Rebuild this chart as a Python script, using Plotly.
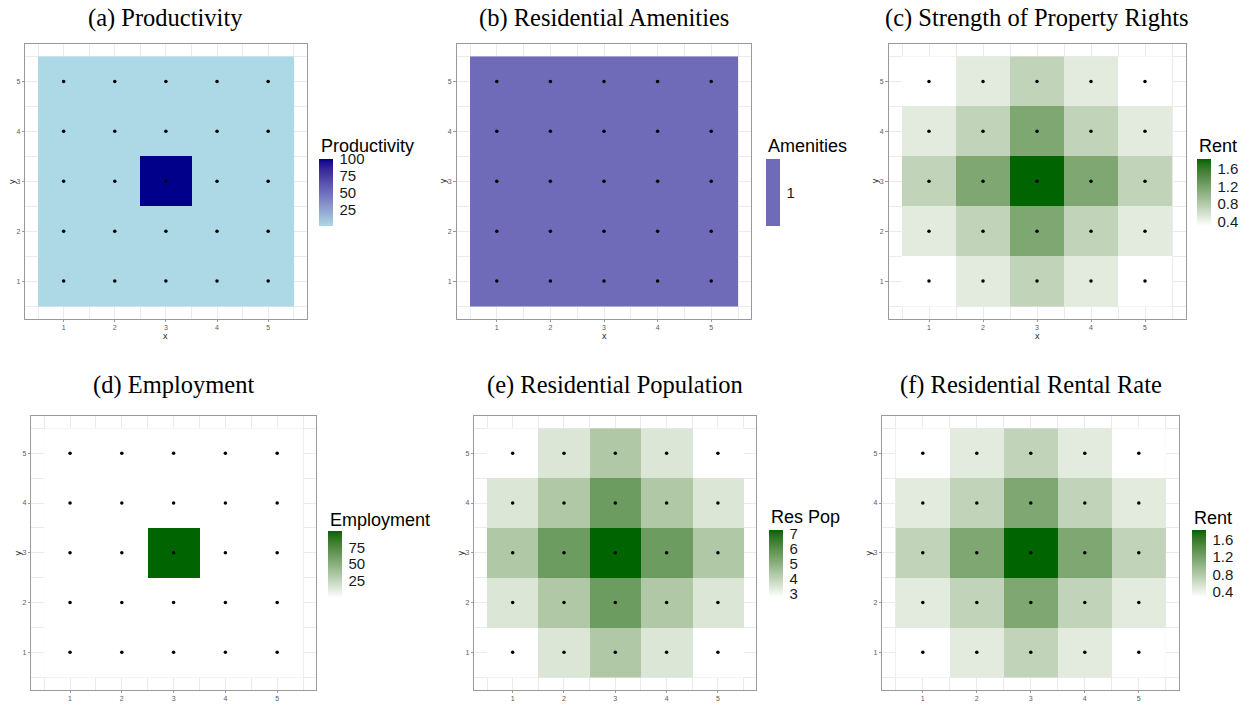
import plotly.graph_objects as go

# ---------------- data ----------------
xs = [1, 2, 3, 4, 5]
ys = [1, 2, 3, 4, 5]

productivity = [
    [1, 1, 1, 1, 1],
    [1, 1, 1, 1, 1],
    [1, 1, 100, 1, 1],
    [1, 1, 1, 1, 1],
    [1, 1, 1, 1, 1],
]
amenities = [
    [1, 1, 1, 1, 1],
    [1, 1, 1, 1, 1],
    [1, 1, 1, 1, 1],
    [1, 1, 1, 1, 1],
    [1, 1, 1, 1, 1],
]
property_rent = [
    [0.30, 0.49, 0.71, 0.49, 0.30],
    [0.49, 0.71, 1.15, 0.71, 0.49],
    [0.71, 1.15, 1.83, 1.15, 0.71],
    [0.49, 0.71, 1.15, 0.71, 0.49],
    [0.30, 0.49, 0.71, 0.49, 0.30],
]
employment = [
    [0, 0, 0, 0, 0],
    [0, 0, 0, 0, 0],
    [0, 0, 100, 0, 0],
    [0, 0, 0, 0, 0],
    [0, 0, 0, 0, 0],
]
res_pop = [
    [2.85, 3.53, 4.35, 3.53, 2.85],
    [3.53, 4.35, 5.64, 4.35, 3.53],
    [4.35, 5.64, 7.25, 5.64, 4.35],
    [3.53, 4.35, 5.64, 4.35, 3.53],
    [2.85, 3.53, 4.35, 3.53, 2.85],
]
res_rent = [
    [0.30, 0.49, 0.71, 0.49, 0.30],
    [0.49, 0.71, 1.15, 0.71, 0.49],
    [0.71, 1.15, 1.83, 1.15, 0.71],
    [0.49, 0.71, 1.15, 0.71, 0.49],
    [0.30, 0.49, 0.71, 0.49, 0.30],
]

panel_titles = ["(a) Productivity", "(b) Residential Amenities",
                "(c) Strength of Property Rights", "(d) Employment",
                "(e) Residential Population", "(f) Residential Rental Rate"]
legend_titles = ["Productivity", "Amenities", "Rent", "Employment", "Res Pop", "Rent"]
legend_ticks = [[25, 50, 75, 100], [1], [0.4, 0.8, 1.2, 1.6],
                [25, 50, 75], [3, 4, 5, 6, 7], [0.4, 0.8, 1.2, 1.6]]
legend_ticktext = [["25", "50", "75", "100"], ["1"], ["0.4", "0.8", "1.2", "1.6"],
                   ["25", "50", "75"], ["3", "4", "5", "6", "7"], ["0.4", "0.8", "1.2", "1.6"]]
tick_labels = ["1", "2", "3", "4", "5"]

# ---------------- colour helpers (Lab interpolation like ggplot) ----------------
def _lin(c):
    c = c / 255.0
    return c / 12.92 if c <= 0.04045 else ((c + 0.055) / 1.055) ** 2.4

def _unlin(c):
    v = 12.92 * c if c <= 0.0031308 else 1.055 * (c ** (1 / 2.4)) - 0.055
    return max(0, min(255, round(v * 255)))

def _f(t):
    return t ** (1 / 3) if t > (6 / 29) ** 3 else t / (3 * (6 / 29) ** 2) + 4 / 29

def _finv(t):
    return t ** 3 if t > 6 / 29 else 3 * (6 / 29) ** 2 * (t - 4 / 29)

def hex_to_lab(h):
    h = h.lstrip("#")
    r, g, b = [_lin(int(h[i:i + 2], 16)) for i in (0, 2, 4)]
    X = (0.4124 * r + 0.3576 * g + 0.1805 * b) / 0.95047
    Y = 0.2126 * r + 0.7152 * g + 0.0722 * b
    Z = (0.0193 * r + 0.1192 * g + 0.9505 * b) / 1.08883
    return 116 * _f(Y) - 16, 500 * (_f(X) - _f(Y)), 200 * (_f(Y) - _f(Z))

def lab_to_hex(L, a, b):
    fy = (L + 16) / 116
    X = _finv(fy + a / 500) * 0.95047
    Y = _finv(fy)
    Z = _finv(fy - b / 200) * 1.08883
    r = 3.2406 * X - 1.5372 * Y - 0.4986 * Z
    g = -0.9689 * X + 1.8758 * Y + 0.0415 * Z
    bb = 0.0557 * X - 0.2040 * Y + 1.0570 * Z
    return "#%02x%02x%02x" % (_unlin(max(r, 0)), _unlin(max(g, 0)), _unlin(max(bb, 0)))

def lab_scale(low, high, n=21):
    l1, l2 = hex_to_lab(low), hex_to_lab(high)
    out = []
    for i in range(n):
        t = i / (n - 1)
        out.append([t, lab_to_hex(*[l1[k] + (l2[k] - l1[k]) * t for k in range(3)])])
    return out

blue_scale = lab_scale("#ADD8E6", "#00008B")
green_scale = lab_scale("#FFFFFF", "#006400")
amen_scale = [[0, "#6f6bb9"], [1, "#6f6bb9"]]

zs = [productivity, amenities, property_rent, employment, res_pop, res_rent]
scales = [blue_scale, amen_scale, green_scale, green_scale, green_scale, green_scale]
zranges = [(None, None), (0.9, 1.1), (None, None), (None, None), (None, None), (None, None)]

# ---------------- layout geometry (screen pixels) ----------------
OFF = 8                      # page body margin of the browser
W, H = 1250 - 2 * OFF, 712 - 2 * OFF
panels = [  # x0, x1, y0(top), y1(bottom)
    (25.3, 306.5, 44, 318.5),
    (456.6, 751.4, 44, 318.5),
    (888.5, 1185.5, 44, 318.5),
    (31.2, 316.0, 416, 689.5),
    (474.2, 756.4, 416, 689.5),
    (882.3, 1179.3, 416, 689.5),
]
bars = [  # bar left x, centre y, legend title centre y
    (319, 192.5, 146),
    (765.7, 192.5, 146),
    (1197, 192.5, 146),
    (328, 564, 520),
    (769, 563, 517),
    (1192, 563, 518),
]
title_y = [18.5, 18.5, 18.5, 385, 385, 385]

def px(x):
    return (x - OFF) / W

def py(y):
    return 1 - (y - OFF) / H

fig = go.Figure()
annotations = []
grid_c = "#ebebeb"
line_c = "#9a9a9a"

for i in range(6):
    x0, x1, y0, y1 = panels[i]
    bx, bcy, tcy = bars[i]
    xa = "x" if i == 0 else "x%d" % (i + 1)
    ya = "y" if i == 0 else "y%d" % (i + 1)
    zmin, zmax = zranges[i]
    fig.add_trace(go.Heatmap(
        x=xs, y=ys, z=zs[i], colorscale=scales[i], zmin=zmin, zmax=zmax,
        xaxis=xa, yaxis=ya, hoverinfo="skip",
        colorbar=dict(
            x=px(bx), xanchor="left", xpad=0, ypad=0,
            y=py(bcy), yanchor="middle",
            thickness=14, thicknessmode="pixels",
            len=67, lenmode="pixels",
            outlinewidth=0,
            tickmode="array", tickvals=legend_ticks[i], ticktext=legend_ticktext[i],
            ticks="outside", ticklen=4, tickcolor="rgba(0,0,0,0)", tickwidth=1,
            tickfont=dict(family="Liberation Sans, Arial, sans-serif", size=15, color="#1a1a1a"),
        ),
    ))
    fig.add_trace(go.Scatter(
        x=[x for y in ys for x in xs], y=[y for y in ys for x in xs],
        mode="markers", marker=dict(color="black", size=3.5),
        xaxis=xa, yaxis=ya, showlegend=False, hoverinfo="skip",
    ))
    axis_common = dict(
        range=[0.25, 5.75], tickmode="array", tickvals=xs, ticktext=tick_labels,
        showgrid=True, gridcolor=grid_c, gridwidth=1,
        minor=dict(tickmode="array", tickvals=[0.5, 1.5, 2.5, 3.5, 4.5, 5.5],
                   showgrid=True, gridcolor=grid_c, gridwidth=0.6),
        showline=True, linecolor=line_c, linewidth=1, mirror=True,
        ticks="outside", ticklen=2.5, tickcolor=line_c, tickwidth=1,
        tickfont=dict(family="Liberation Sans, Arial, sans-serif", size=7, color="#5a5a5a"),
        zeroline=False, automargin=False, fixedrange=True,
    )
    fig.update_layout({
        ("xaxis" if i == 0 else "xaxis%d" % (i + 1)): dict(domain=[px(x0), px(x1)], anchor=ya, **axis_common),
        ("yaxis" if i == 0 else "yaxis%d" % (i + 1)): dict(domain=[py(y1), py(y0)], anchor=xa, **axis_common),
    })
    # panel title
    annotations.append(dict(
        text=panel_titles[i], x=px((x0 + x1) / 2), y=py(title_y[i]),
        xref="paper", yref="paper", xanchor="center", yanchor="middle", showarrow=False,
        font=dict(family="Liberation Serif, Times New Roman, serif", size=24.5, color="black"),
    ))
    # legend title
    annotations.append(dict(
        text=legend_titles[i], x=px(bx), y=py(tcy),
        xref="paper", yref="paper", xanchor="left", yanchor="middle", showarrow=False,
        font=dict(family="Liberation Sans, Arial, sans-serif", size=18, color="black"),
    ))
    # axis titles
    annotations.append(dict(
        text="x", x=px((x0 + x1) / 2), y=py(y1 + 17.5),
        xref="paper", yref="paper", xanchor="center", yanchor="middle", showarrow=False,
        font=dict(family="Liberation Sans, Arial, sans-serif", size=9, color="#222222"),
    ))
    annotations.append(dict(
        text="y", x=px(x0 - 13.5), y=py((y0 + y1) / 2), textangle=-90,
        xref="paper", yref="paper", xanchor="center", yanchor="middle", showarrow=False,
        font=dict(family="Liberation Sans, Arial, sans-serif", size=9, color="#222222"),
    ))

fig.update_layout(
    width=W, height=H, autosize=False,
    margin=dict(l=0, r=0, t=0, b=0, autoexpand=False),
    paper_bgcolor="white", plot_bgcolor="white",
    showlegend=False, annotations=annotations,
)

fig.write_html("out.html")
